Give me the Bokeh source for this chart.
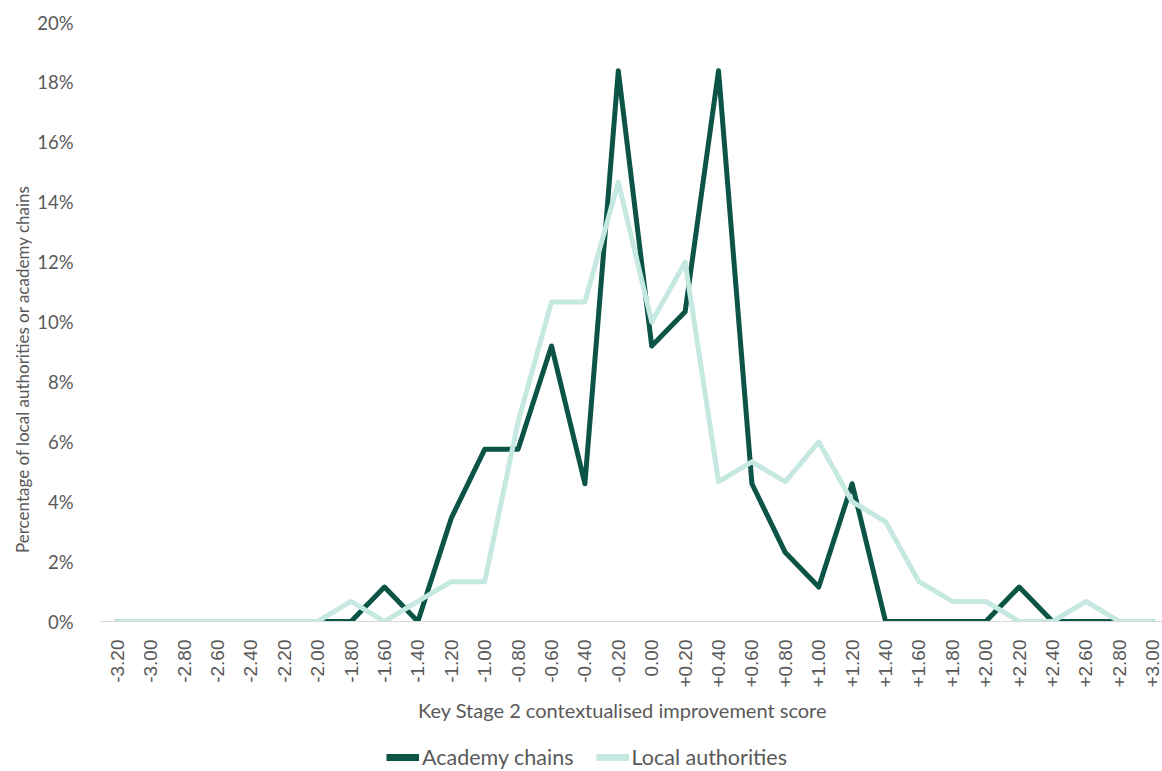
from bokeh.plotting import figure
from bokeh.layouts import column, row
from bokeh.models import (Range1d, FixedTicker, PrintfTickFormatter, Legend,
                          LegendItem, ColumnDataSource)
from bokeh.core.properties import value
from bokeh.embed import file_html
from bokeh.resources import INLINE
import math

# Key Stage 2 contextualised improvement score bands
score_bands = ["-3.20", "-3.00", "-2.80", "-2.60", "-2.40", "-2.20", "-2.00",
               "-1.80", "-1.60", "-1.40", "-1.20", "-1.00", "-0.80", "-0.60",
               "-0.40", "-0.20", "0.00", "+0.20", "+0.40", "+0.60", "+0.80",
               "+1.00", "+1.20", "+1.40", "+1.60", "+1.80", "+2.00", "+2.20",
               "+2.40", "+2.60", "+2.80", "+3.00"]

# Percentage of academy chains in each band
academy_chains = [0, 0, 0, 0, 0, 0, 0, 0, 1.15, 0, 3.45, 5.75, 5.75, 9.2,
                  4.6, 18.39, 9.2, 10.34, 18.39, 4.6, 2.3, 1.15, 4.6, 0,
                  0, 0, 0, 1.15, 0, 0, 0, 0]

# Percentage of local authorities in each band
local_authorities = [0, 0, 0, 0, 0, 0, 0, 0.67, 0, 0.67, 1.33, 1.33, 6.67,
                     10.67, 10.67, 14.67, 10.0, 12.0, 4.67, 5.33, 4.67, 6.0,
                     4.0, 3.33, 1.33, 0.67, 0.67, 0, 0, 0.67, 0, 0]

series_names = ["Academy chains", "Local authorities"]

y_ticks = [0, 2, 4, 6, 8, 10, 12, 14, 16, 18, 20]

x_title = "Key Stage 2 contextualised improvement score"
y_title = "Percentage of local authorities or academy chains"

DARK = "#0B5446"
LIGHT = "#C5E8E1"
TEXT = "#595959"
FONT = "Lato"

idx = list(range(len(score_bands)))
src = ColumnDataSource(data=dict(x=idx, ac=academy_chains, la=local_authorities))
y_range = Range1d(y_ticks[0], y_ticks[-1])

# main chart: frame spans x 100..1162, y 22..622 on the page
p = figure(width=1128, height=690, output_backend="svg", toolbar_location=None,
           x_range=Range1d(-0.5, 31.29), y_range=y_range,
           min_border_left=66, min_border_right=0, min_border_top=22,
           min_border_bottom=68)
p.outline_line_color = None
p.grid.visible = False
p.background_fill_color = "white"
p.border_fill_color = "white"

p.line("x", "ac", source=src, line_color=DARK, line_width=5,
       line_join="round", line_cap="round")
p.line("x", "la", source=src, line_color=LIGHT, line_width=5,
       line_join="round", line_cap="round")

# x axis: rotated band labels
xa = p.xaxis[0]
xa.ticker = FixedTicker(ticks=idx)
xa.major_label_overrides = {i: s for i, s in zip(idx, score_bands)}
xa.major_label_orientation = math.pi / 2
xa.major_label_text_font = "Liberation Sans"
xa.major_label_text_font_size = "19px"
xa.major_label_text_color = TEXT
xa.major_label_standoff = 12
xa.major_tick_line_color = None
xa.minor_tick_line_color = None
xa.axis_line_color = "#D9D9D9"
xa.axis_line_width = 1

# y axis: percentages
ya = p.yaxis[0]
ya.ticker = FixedTicker(ticks=y_ticks)
ya.formatter = PrintfTickFormatter(format="%d%%")
ya.major_label_text_font = FONT
ya.major_label_text_font_size = "18.5px"
ya.major_label_text_color = TEXT
ya.major_label_standoff = 21
ya.major_tick_line_color = None
ya.minor_tick_line_color = None
ya.axis_line_color = None

# narrow strip on the left carrying the vertical y-axis title
yt = figure(width=34, height=690, output_backend="svg", toolbar_location=None,
            x_axis_location=None, y_axis_location=None,
            x_range=Range1d(0, 1), y_range=y_range,
            min_border_left=0, min_border_right=0, min_border_top=22,
            min_border_bottom=68)
yt.outline_line_color = None
yt.grid.visible = False
yt.text(x=[0.65], y=[(y_ticks[0] + y_ticks[-1]) / 2], text=[y_title],
        angle=math.pi / 2, text_align="center", text_baseline="middle",
        y_offset=47, text_font=value(FONT), text_font_size="17px",
        text_color=TEXT)

# strip under the chart: x-axis title and legend
lg = figure(width=1162, height=81, output_backend="svg", toolbar_location=None,
            x_axis_location=None, y_axis_location=None,
            x_range=Range1d(0, 1162), y_range=Range1d(0, 81),
            min_border_left=0, min_border_right=0, min_border_top=0,
            min_border_bottom=0)
lg.outline_line_color = None
lg.grid.visible = False
lg.text(x=[622], y=[62], text=[x_title], text_align="center",
        text_baseline="middle", text_font=value(FONT),
        text_font_size="20px", text_color=TEXT)
# swatch lines for the legend sit outside the visible range
lg_ac = lg.line([2000, 2001], [0, 1], line_color=DARK, line_width=7)
lg_la = lg.line([2000, 2001], [0, 1], line_color=LIGHT, line_width=7)

legend = Legend(items=[LegendItem(label=series_names[0], renderers=[lg_ac]),
                       LegendItem(label=series_names[1], renderers=[lg_la])],
                orientation="horizontal", location=(386, 1),
                padding=0, margin=0, spacing=22, glyph_width=33,
                glyph_height=20, label_standoff=3,
                label_text_font=FONT, label_text_font_size="21.5px",
                label_text_color=TEXT, border_line_color=None,
                background_fill_alpha=0)
lg.add_layout(legend)

layout = column(row(yt, p, spacing=0), lg, spacing=0)
open("out.html", "w").write(file_html(layout, INLINE))
